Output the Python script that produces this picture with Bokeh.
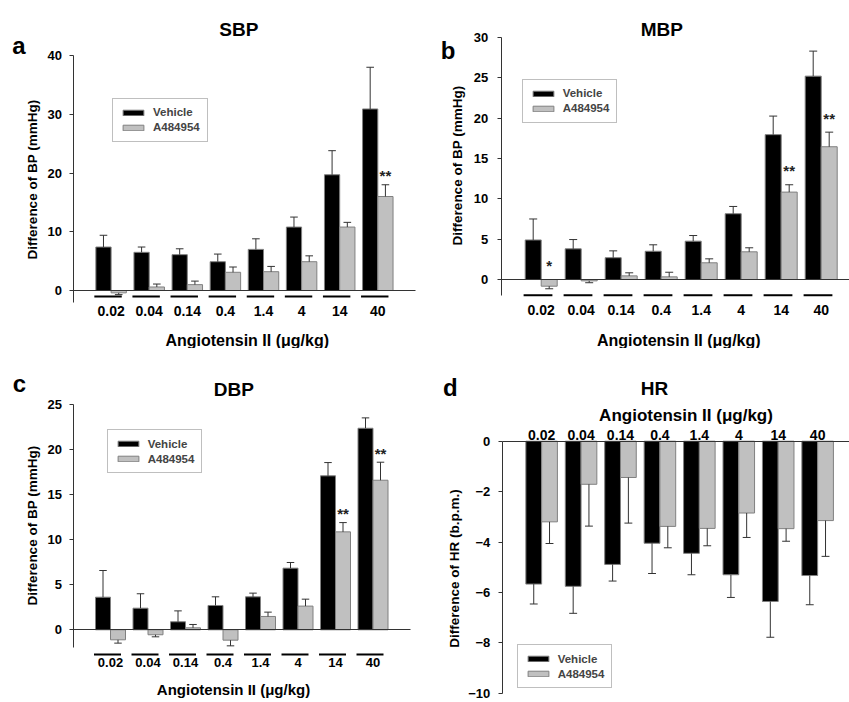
import math
from bokeh.plotting import figure
from bokeh.layouts import row, column
from bokeh.models import FixedTicker, Label, Legend, LegendItem, Range1d, LinearAxis
from bokeh.core.properties import value
from bokeh.embed import file_html
from bokeh.resources import INLINE

# ---------------- data ----------------
doses = ["0.02", "0.04", "0.14", "0.4", "1.4", "4", "14", "40"]
series_names = ["Vehicle", "A484954"]

sbp_vehicle = [7.4, 6.5, 6.1, 4.9, 7.0, 10.8, 19.7, 30.9]
sbp_vehicle_err = [2.0, 0.9, 1.0, 1.3, 1.8, 1.7, 4.1, 7.1]
sbp_drug = [-0.4, 0.6, 1.0, 3.1, 3.2, 4.9, 10.8, 16.0]
sbp_drug_err = [0.3, 0.5, 0.6, 0.9, 0.9, 1.0, 0.8, 2.0]
sbp_stars = ["", "", "", "", "", "", "", "**"]

mbp_vehicle = [4.9, 3.8, 2.7, 3.5, 4.75, 8.15, 17.95, 25.2]
mbp_vehicle_err = [2.6, 1.15, 0.85, 0.8, 0.7, 0.9, 2.3, 3.1]
mbp_drug = [-0.83, -0.17, 0.45, 0.33, 2.07, 3.43, 10.83, 16.45]
mbp_drug_err = [0.32, 0.23, 0.38, 0.57, 0.49, 0.5, 0.91, 1.81]
mbp_stars = ["*", "", "", "", "", "", "**", "**"]

dbp_vehicle = [3.62, 2.4, 0.89, 2.7, 3.66, 6.84, 17.09, 22.37]
dbp_vehicle_err = [2.96, 1.6, 1.21, 0.96, 0.41, 0.63, 1.47, 1.15]
dbp_drug = [-1.11, -0.55, 0.22, -1.15, 1.48, 2.63, 10.87, 16.6]
dbp_drug_err = [0.37, 0.23, 0.37, 0.63, 0.48, 0.77, 1.03, 2.0]
dbp_stars = ["", "", "", "", "", "", "**", "**"]

hr_vehicle = [-5.67, -5.76, -4.89, -4.05, -4.45, -5.3, -6.36, -5.33]
hr_vehicle_err = [0.79, 1.07, 0.66, 1.2, 0.85, 0.9, 1.42, 1.16]
hr_drug = [-3.2, -1.71, -1.44, -3.38, -3.46, -2.85, -3.47, -3.15]
hr_drug_err = [0.86, 1.66, 1.81, 0.85, 0.69, 0.97, 0.5, 1.42]
hr_stars = ["", "", "", "", "", "", "", ""]

sbp_ticks = [0, 10, 20, 30, 40]
mbp_ticks = [0, 5, 10, 15, 20, 25, 30]
dbp_ticks = [0, 5, 10, 15, 20, 25]
hr_ticks = [0, -2, -4, -6, -8, -10]

x_title = "Angiotensin II (\u03bcg/kg)"
bp_ylabel = "Difference of BP (mmHg)"
hr_ylabel = "Difference of HR (b.p.m.)"

# ---------------- style ----------------
FONT = "Liberation Sans"
AX = "#333333"
BLACK_FILL = "#000000"
GRAY_FILL = "#c0c0c0"
BAR_LINE = "#808080"
BW = 0.4


def make_panel(g, vehicle, verr, drug, derr, stars, ticks, ylabel, title, letter):
    ox, oy, w, h = g["box"]
    x0, ppx = g["x0"], g["ppx"]
    y0, ppy = g["y0"], g["ppy"]
    xr = ((ox - x0) / ppx, (ox + w - x0) / ppx)
    yr = ((y0 - (oy + h)) / ppy, (y0 - oy) / ppy)

    def sx(px):
        return px - ox

    def sy(py):
        return (oy + h) - py

    p = figure(width=w, height=h, x_range=Range1d(*xr), y_range=Range1d(*yr),
               output_backend="svg", toolbar_location=None,
               x_axis_location=None, y_axis_location=None,
               min_border_left=0, min_border_right=0, min_border_top=0, min_border_bottom=0)
    p.outline_line_color = None
    p.xgrid.visible = False
    p.ygrid.visible = False

    n = len(doses)
    centers = [i + 1 for i in range(n)]
    xv = [c - BW / 2 for c in centers]
    xd = [c + BW / 2 for c in centers]

    rv = p.vbar(x=xv, top=vehicle, bottom=0, width=BW, fill_color=BLACK_FILL,
                line_color=BAR_LINE, line_width=1)
    rd = p.vbar(x=xd, top=drug, bottom=0, width=BW, fill_color=GRAY_FILL,
                line_color=BAR_LINE, line_width=1)

    # one-sided error bars (away from zero)
    for xs, vals, errs in ((xv, vehicle, verr), (xd, drug, derr)):
        tops = [v + (e if v >= 0 else -e) for v, e in zip(vals, errs)]
        p.segment(x0=xs, y0=vals, x1=xs, y1=tops, line_color=AX, line_width=1)
        p.segment(x0=[x - 0.1 for x in xs], y0=tops, x1=[x + 0.1 for x in xs], y1=tops,
                  line_color=AX, line_width=1)

    # significance marks
    dtops = [v + e if v >= 0 else 0 for v, e in zip(drug, derr)]
    p.text(x=xd, y=dtops, text=stars, text_align="center", text_baseline="middle",
           y_offset=-g["star_off"], text_font=value(FONT), text_font_style="bold",
           text_font_size="15px", text_color="#222222")

    # group underlines
    if g.get("uy") is not None:
        p.segment(x0=[c - 0.44 for c in centers], x1=[c + 0.28 for c in centers],
                  y0=[g["uy"]] * n, y1=[g["uy"]] * n, line_color="#000000", line_width=2)

    # x axis (drawn at zero)
    xa = LinearAxis(fixed_location=0, bounds=(0, g["xb"]))
    xa.ticker = FixedTicker(ticks=centers)
    xa.major_label_overrides = {c: d for c, d in zip(centers, doses)}
    xa.major_tick_in = 0
    xa.major_tick_out = 0
    xa.minor_tick_in = 0
    xa.minor_tick_out = 0
    xa.axis_line_color = AX
    xa.major_label_text_font = FONT
    xa.major_label_text_font_style = "bold"
    xa.major_label_text_font_size = g["xfs"]
    xa.major_label_text_color = "#000000"
    xa.major_label_standoff = g["xls"]
    p.add_layout(xa, g["xloc"])

    # y axis (drawn at x = 0)
    ya = LinearAxis(fixed_location=0, bounds=g["ybounds"])
    ya.ticker = FixedTicker(ticks=ticks)
    ya.major_tick_out = 4
    ya.major_tick_in = 0
    ya.minor_tick_in = 0
    ya.minor_tick_out = 0
    ya.axis_line_color = AX
    ya.major_tick_line_color = AX
    ya.major_label_text_font = FONT
    ya.major_label_text_font_style = "bold"
    ya.major_label_text_font_size = "13px"
    ya.major_label_text_color = "#000000"
    ya.major_label_standoff = g["yls"]
    p.add_layout(ya, "left")

    legend = Legend(items=[LegendItem(label=series_names[0], renderers=[rv]),
                           LegendItem(label=series_names[1], renderers=[rd])],
                    location=(sx(g["leg"][0]), sy(g["leg"][1])), glyph_width=26, glyph_height=7,
                    label_height=13, spacing=2, padding=7, margin=0,
                    label_standoff=7, label_text_font=FONT,
                    label_text_font_style="bold", label_text_font_size="11.5px",
                    border_line_color="#808080", border_line_width=1,
                    background_fill_color="white")
    p.add_layout(legend)

    def lab(text, px, py, size, baseline="alphabetic", angle=0):
        p.add_layout(Label(x=sx(px), y=sy(py), x_units="screen", y_units="screen", text=text,
                           text_align="center", text_baseline=baseline, angle=angle,
                           angle_units="deg", text_font=FONT, text_font_style="bold",
                           text_font_size=size, text_color="#000000"))

    lab(title, g["title"][0], g["title"][1], "19px")
    lab(letter, g["letter"][0], g["letter"][1], "24px")
    lab(x_title, g["xt"][0], g["xt"][1], g["xtfs"])
    lab(ylabel, g["yt"][0], g["yt"][1], "13.5px", baseline="middle", angle=90)
    return p


# geometry: page-pixel anchors (figure box, axis origin, pixels per unit, text anchors)
geo_a = dict(box=(0, 0, 424, 348), x0=72.5, ppx=38.1, y0=290, ppy=5.875, xb=9.0,
             ybounds=(-2, 40), xloc="below", uy=-1.02, xls=15, yls=7, xfs="14px",
             leg=(112, 141.7), star_off=9, title=(238.3, 29.3), letter=(18.3, 45),
             xt=(246.7, 340.3), xtfs="16px", yt=(32, 179))
geo_b = dict(box=(424, 0, 425, 348), x0=500.7, ppx=40.0, y0=279, ppy=8.07, xb=8.7,
             ybounds=(-2, 30), xloc="below", uy=-1.95, xls=25, yls=9, xfs="14px",
             leg=(521.7, 122.7), star_off=14, title=(661.3, 29.3), letter=(447.7, 50),
             xt=(678.3, 340.3), xtfs="16px", yt=(457.3, 165))
geo_c = dict(box=(0, 348, 424, 354), x0=72.5, ppx=37.5, y0=629.3, ppy=9.01, xb=9.0,
             ybounds=(-2, 25), xloc="below", uy=-2.74, xls=28, yls=7, xfs="13px",
             leg=(106.7, 473.3), star_off=9, title=(233.3, 389), letter=(18.8, 383.3),
             xt=(233, 689.3), xtfs="15px", yt=(31.7, 525))
geo_d = dict(box=(424, 348, 425, 354), x0=501.7, ppx=39.43, y0=440.7, ppy=25.2, xb=8.8,
             ybounds=(-10, 0), xloc="above", uy=None, xls=1, yls=8, xfs="14px",
             leg=(516.7, 688), star_off=9, title=(654, 388.3), letter=(449.8, 386.7),
             xt=(685.5, 415), xtfs="17px", yt=(454, 568))

pa = make_panel(geo_a, sbp_vehicle, sbp_vehicle_err, sbp_drug, sbp_drug_err, sbp_stars,
                sbp_ticks, bp_ylabel, "SBP", "a")
pb = make_panel(geo_b, mbp_vehicle, mbp_vehicle_err, mbp_drug, mbp_drug_err, mbp_stars,
                mbp_ticks, bp_ylabel, "MBP", "b")
pc = make_panel(geo_c, dbp_vehicle, dbp_vehicle_err, dbp_drug, dbp_drug_err, dbp_stars,
                dbp_ticks, bp_ylabel, "DBP", "c")
pd_ = make_panel(geo_d, hr_vehicle, hr_vehicle_err, hr_drug, hr_drug_err, hr_stars,
                 hr_ticks, hr_ylabel, "HR", "d")

layout = column(row(pa, pb, spacing=0), row(pc, pd_, spacing=0), spacing=0)

open("out.html", "w").write(file_html(layout, INLINE))
